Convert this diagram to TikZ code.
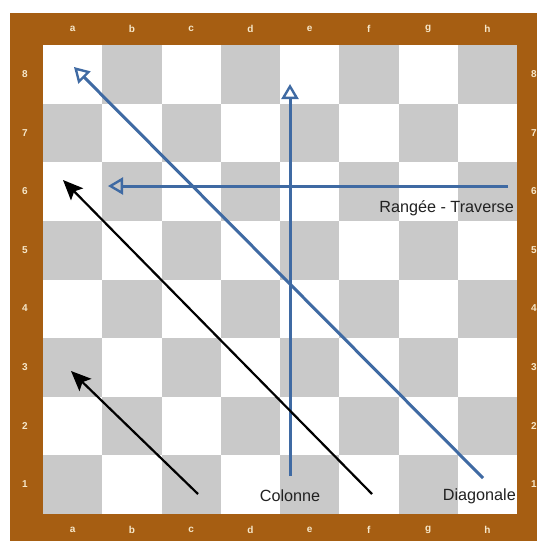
\documentclass[tikz,border=0pt]{standalone}
\usepackage{fontspec}
\setmainfont{Liberation Sans}
\usetikzlibrary{arrows.meta}
\definecolor{frame}{HTML}{A65E12}
\definecolor{dark}{HTML}{C9C9C9}
\definecolor{lbl}{HTML}{F6E7C9}
\definecolor{blueline}{HTML}{3F6AA3}
\definecolor{txt}{HTML}{222222}
\tikzset{
  coordlbl/.style={text=lbl, font=\bfseries\fontsize{10}{11}\selectfont, inner sep=0pt},
  bluearrow/.style={draw=blueline, line width=3pt, -{Triangle[open, length=15pt, width=17pt, line width=2.4pt]}},
  blackarrow/.style={draw=black, line width=2.2pt, -{Stealth[length=20pt, width=17pt, inset=4pt]}},
  caption/.style={text=txt, font=\fontsize{16.2}{18}\selectfont, inner sep=0pt}
}
\begin{document}
\begin{tikzpicture}[x=1pt,y=-1pt]
\useasboundingbox (0,0) rectangle (536,541);
\fill[white] (0,0) rectangle (536,541);
\fill[frame] (10,13) rectangle (540,545);
\fill[white] (43,45) rectangle (517,514);
\foreach \i in {0,...,7}{
  \foreach \j in {0,...,7}{
    \pgfmathparse{int(mod(\i+\j,2))}
    \ifnum\pgfmathresult=1
      \fill[dark] ({43+\i*59.25},{45+\j*58.625}) rectangle ({43+(\i+1)*59.25},{45+(\j+1)*58.625});
    \fi
  }
}
\foreach \c [count=\k from 0] in {a,b,c,d,e,f,g,h}{
  \node[coordlbl] (top\c) at ({72.6+\k*59.25},29) {\c};
  \node[coordlbl] (bot\c) at ({72.6+\k*59.25},530) {\c};
}
\foreach \r [count=\k from 0] in {8,7,6,5,4,3,2,1}{
  \node[coordlbl] (left\r) at (25,{74+\k*58.625}) {\r};
  \node[coordlbl] (right\r) at (534,{74+\k*58.625}) {\r};
}
% blue arrows
\coordinate (diagS) at (483,478);
\coordinate (diagE) at (74,67);
\coordinate (colS) at (290,476);
\coordinate (colE) at (290,84);
\coordinate (rowS) at (508,186);
\coordinate (rowE) at (108,186);
\draw[bluearrow] (diagS) -- (diagE);
\draw[bluearrow] (colS) -- (colE);
\draw[bluearrow] (rowS) -- (rowE);
% black arrows
\coordinate (bl1S) at (372,494);
\coordinate (bl1E) at (63,180);
\coordinate (bl2S) at (198,494);
\coordinate (bl2E) at (71,371);
\draw[blackarrow] (bl1S) -- (bl1E);
\draw[blackarrow] (bl2S) -- (bl2E);
% captions
\node[caption, anchor=east] (rangee) at (514,208) {Rangée - Traverse};
\node[caption] (colonne) at (290,496) {Colonne};
\node[caption, anchor=east] (diagonale) at (516,496) {Diagonale};
\end{tikzpicture}
\end{document}
